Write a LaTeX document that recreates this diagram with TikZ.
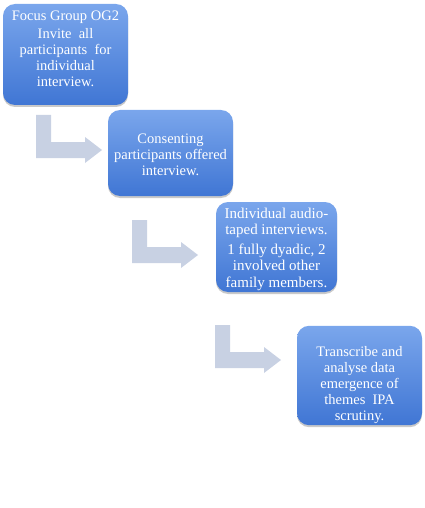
\documentclass[tikz,border=0pt]{standalone}
\usepackage{fontspec}
\setmainfont{Liberation Serif}
\usetikzlibrary{shadows}
\definecolor{boxtop}{RGB}{122,166,236}
\definecolor{boxbottom}{RGB}{64,118,212}
\definecolor{arrowgray}{RGB}{200,209,227}
\tikzset{
  stepbox/.style={rounded corners=12pt,top color=boxtop,bottom color=boxbottom,
    text=white,align=center,inner sep=2pt,
    drop shadow={shadow xshift=0pt,shadow yshift=-2pt,opacity=0.3,fill=black!70}},
  bentarrow/.pic={
    \fill[arrowgray] (0,0)--(15,0)--(15,27)--(49,27)--(49,22)--(66,35)--(49,48)--(49,43)--(0,43)--cycle;
  }
}
\begin{document}
\begin{tikzpicture}[x=1pt,y=-1pt,font=\fontsize{14.5}{16}\selectfont]
\useasboundingbox (0,0) rectangle (425,508);
\node[stepbox,minimum width=125pt,minimum height=101pt] (invite) at (65.5,54.5)
  {Focus Group OG2\\[2pt] Invite\ \ all\\ participants\ \ for\\ individual\\ interview.\\[-10pt]\strut};
\node[stepbox,minimum width=125pt,minimum height=86pt] (consent) at (170.5,153)
  {\rule{0pt}{14pt}Consenting\\ participants offered\\ interview.};
\node[stepbox,minimum width=121pt,minimum height=90pt,inner ysep=0pt,font=\fontsize{15}{16.5}\selectfont] (audio) at (276.5,247)
  {\rule{0pt}{15pt}Individual audio-\\ taped interviews.\\[3pt] 1 fully dyadic, 2\\ involved other\\ family members.};
\node[stepbox,minimum width=125pt,minimum height=93pt] (transcribe) at (359.5,375.5)
  {\strut\\[1pt] Transcribe and\\ analyse data\\ emergence of\\ themes\ \ IPA\\ scrutiny.};
% arrows between the steps
\pic at (36,115) {bentarrow};
\pic at (132,220) {bentarrow};
\pic at (215,325) {bentarrow};
\end{tikzpicture}
\end{document}
